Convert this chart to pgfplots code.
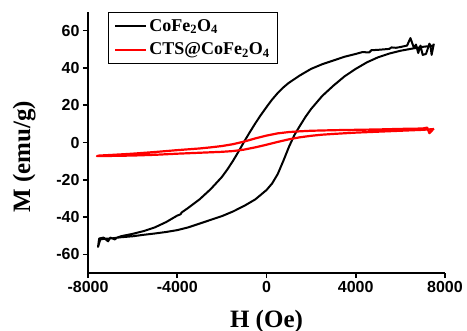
\documentclass[border=0pt]{standalone}
\usepackage{fontspec}
\setmainfont{Liberation Serif}
\setsansfont{Liberation Sans}
\newfontfamily\legfont{Liberation Serif Bold}
\usepackage{pgfplots}
\pgfplotsset{compat=1.18}
\begin{document}
\begin{tikzpicture}
\begin{axis}[
 name=ax,
 scale only axis, width=357bp, height=261bp,
 xmin=-8000, xmax=8000, ymin=-70, ymax=70,
 axis x line=bottom, axis y line=left,
 axis line style={-, line width=2bp},
 xtick={-8000,-4000,0,4000,8000},
 xticklabels={-8000,-4000,0,4000,8000},
 ytick={-60,-40,-20,0,20,40,60},
 yticklabels={-60,-40,-20,0,20,40,60},
 tick align=outside,
 major tick length=5bp,
 tick style={line width=1.5bp, black},
 ticklabel style={font=\fontsize{16bp}{19bp}\selectfont\sffamily\bfseries},
 xlabel={H (Oe)}, ylabel={M (emu/g)},
 xlabel style={at={(axis description cs:0.5,-0.21)}, anchor=base, font=\fontsize{25bp}{30bp}\selectfont\bfseries},
 ylabel style={at={(axis description cs:-0.179,0.446)}, anchor=center, font=\fontsize{25bp}{30bp}\selectfont\bfseries},
 legend style={at={(axis description cs:0.056,1)}, anchor=north west, draw=black, line width=0.8bp,
   font=\legfont\fontsize{18bp}{22bp}\selectfont, inner xsep=6bp, inner ysep=5bp, row sep=6bp},
 legend cell align=left,
 legend image code/.code={\draw[#1, line width=2bp] (0bp,0bp) -- (31bp,0bp);},
]
\addplot[black, line width=2bp, line join=round] coordinates {
(7500,53) (7400,47) (7350,52) (7300,53) (7150,47.5) (7000,47) (6900,52) (6800,48) (6700,52.5) (6600,51) (6450,56) (6300,52)
(6000,51.2) (5800,50.8) (5600,51) (5500,50.2) (5000,49.7) (4700,49.5) (4600,48.3) (4300,48.5) (4000,47.5)
(3500,46) (3000,44) (2500,42) (2000,39.5) (1500,36) (1000,32) (750,29.5) (500,26.5) (250,23) (0,19)
(-250,14.8) (-500,10.3) (-750,5.5) (-1000,0.5) (-1250,-4.8) (-1500,-9.8) (-1750,-14.4) (-2000,-18.5)
(-2500,-25) (-3000,-30.5) (-3500,-35) (-3800,-37.5) (-3850,-38.5) (-4000,-39.2) (-4500,-42.7) (-5000,-45.5)
(-5500,-47.5) (-6000,-49) (-6500,-50.2) (-6700,-51) (-6800,-52) (-7000,-51) (-7100,-53) (-7300,-51) (-7500,-51.5)
(-7550,-56) (-7450,-52) (-7200,-51.5) (-7000,-51.5) (-6500,-50.8) (-6000,-50.3) (-5500,-49.5) (-5000,-48.8)
(-4500,-48) (-4000,-47) (-3500,-45.5) (-3000,-43.5) (-2500,-41.5) (-2000,-39.5) (-1500,-37) (-1000,-34)
(-500,-30.5) (0,-25.5) (250,-22) (500,-17) (750,-10) (1000,-2.5) (1250,4) (1500,9) (1750,13.8) (2000,18)
(2500,25) (3000,30.5) (3500,35.5) (4000,39.5) (4500,43) (5000,45.7) (5500,47.7) (6000,49.2) (6500,50.3)
(7000,51.3) (7500,52)
};
\addlegendentry{CoFe\textsubscript{2}O\textsubscript{4}}
\addplot[red, line width=2.2bp, line join=round] coordinates {
(7500,7.5) (7300,5) (7200,8) (7000,7.5) (6000,7.3) (5000,7) (4000,6.8) (3000,6.6) (2000,6.3) (1500,6) (1000,5.6)
(500,4.9) (0,3.7) (-500,2.2) (-1000,0.5) (-1500,-0.9) (-2000,-1.9) (-2500,-2.6) (-3000,-3.2) (-4000,-4.1)
(-5000,-5.1) (-6000,-6) (-7000,-6.7) (-7500,-7)
(-7600,-7.3) (-7000,-7.2) (-6000,-7) (-5000,-6.6) (-4000,-6) (-3000,-5.5) (-2000,-5) (-1500,-4.6) (-1000,-3.8)
(-500,-2.6) (0,-1.2) (500,0.3) (1000,1.7) (1500,2.8) (2000,3.6) (2500,4.2) (3000,4.6) (4000,5.3) (5000,5.8)
(6000,6.3) (7000,6.8) (7500,7.2)
};
\addlegendentry{CTS@CoFe\textsubscript{2}O\textsubscript{4}}
\end{axis}
\pgfresetboundingbox
\path ([shift={(-88bp,-57bp)}]ax.south west) rectangle ([shift={(22bp,12bp)}]ax.north east);
\end{tikzpicture}
\end{document}
